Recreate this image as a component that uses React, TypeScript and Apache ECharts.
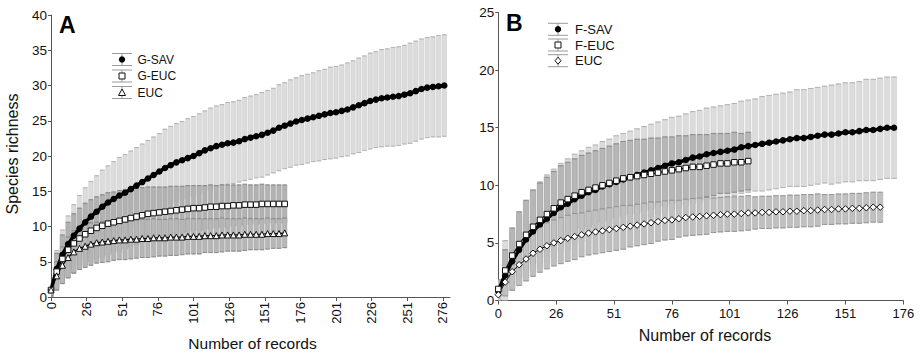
import React, { useEffect, useRef } from "react";
import * as echarts from "echarts";

// ---------- Panel A (records sampled every A_STEP, x = record index from 0) ----------
const A_STEP = 4;
const gSavMean = [1.0, 4.0, 6.0, 7.5, 8.7, 9.7, 10.6, 11.4, 12.1, 12.8, 13.4, 13.9, 14.4, 14.8, 15.3, 15.8, 16.3, 16.8, 17.3, 17.8, 18.3, 18.7, 19.1, 19.4, 19.7, 20.0, 20.4, 20.8, 21.1, 21.4, 21.6, 21.8, 21.9, 22.1, 22.4, 22.6, 22.8, 23.0, 23.3, 23.6, 24.0, 24.3, 24.6, 24.9, 25.1, 25.3, 25.5, 25.7, 25.9, 26.1, 26.2, 26.4, 26.6, 26.9, 27.2, 27.5, 27.8, 28.0, 28.2, 28.3, 28.4, 28.5, 28.7, 28.9, 29.2, 29.5, 29.7, 29.8, 29.9, 30.0];
const gSavSd = [0.8, 2.6, 3.5, 4.0, 4.4, 4.7, 4.9, 5.0, 5.1, 5.2, 5.2, 5.3, 5.4, 5.4, 5.4, 5.4, 5.4, 5.4, 5.4, 5.4, 5.5, 5.5, 5.5, 5.5, 5.6, 5.6, 5.6, 5.6, 5.7, 5.7, 5.7, 5.8, 5.8, 5.8, 5.9, 5.9, 5.9, 6.0, 6.0, 6.0, 6.1, 6.1, 6.2, 6.2, 6.3, 6.3, 6.3, 6.4, 6.4, 6.5, 6.5, 6.5, 6.6, 6.6, 6.7, 6.7, 6.8, 6.8, 6.9, 6.9, 7.0, 7.0, 7.0, 7.1, 7.1, 7.1, 7.1, 7.1, 7.2, 7.2];
const gEucMean = [1.0, 3.6, 5.4, 6.7, 7.6, 8.3, 8.9, 9.4, 9.8, 10.1, 10.4, 10.6, 10.8, 11.0, 11.2, 11.4, 11.6, 11.8, 11.9, 12.0, 12.1, 12.2, 12.3, 12.4, 12.5, 12.6, 12.6, 12.7, 12.8, 12.8, 12.9, 12.9, 13.0, 13.0, 13.1, 13.1, 13.1, 13.2, 13.2, 13.2, 13.2, 13.2];
const gEucSd = [1.0, 2.6, 3.4, 3.9, 4.2, 4.3, 4.4, 4.4, 4.4, 4.4, 4.4, 4.3, 4.3, 4.2, 4.1, 4.0, 3.9, 3.8, 3.7, 3.6, 3.5, 3.5, 3.4, 3.3, 3.3, 3.2, 3.2, 3.1, 3.1, 3.0, 3.0, 3.0, 2.9, 2.9, 2.9, 2.8, 2.8, 2.8, 2.7, 2.7, 2.7, 2.7];
const aEucMean = [1.0, 3.0, 4.5, 5.6, 6.4, 6.9, 7.2, 7.5, 7.7, 7.8, 7.9, 8.0, 8.1, 8.1, 8.2, 8.2, 8.3, 8.3, 8.4, 8.4, 8.4, 8.5, 8.5, 8.5, 8.6, 8.6, 8.6, 8.7, 8.7, 8.7, 8.8, 8.8, 8.8, 8.8, 8.9, 8.9, 8.9, 8.9, 9.0, 9.0, 9.0, 9.1];
const aEucSd = [0.8, 2.0, 2.6, 2.9, 3.0, 3.0, 3.0, 3.0, 2.9, 2.9, 2.9, 2.8, 2.8, 2.8, 2.8, 2.7, 2.7, 2.7, 2.7, 2.6, 2.6, 2.6, 2.6, 2.5, 2.5, 2.5, 2.5, 2.4, 2.4, 2.4, 2.4, 2.3, 2.3, 2.3, 2.3, 2.2, 2.2, 2.2, 2.2, 2.1, 2.1, 2.1];

// ---------- Panel B (records sampled every B_STEP) ----------
const B_STEP = 3;
const fSavMean = [0.8, 2.2, 3.4, 4.4, 5.3, 6.0, 6.6, 7.1, 7.6, 8.1, 8.4, 8.8, 9.1, 9.4, 9.6, 9.9, 10.1, 10.3, 10.5, 10.7, 10.9, 11.1, 11.3, 11.5, 11.7, 11.9, 12.0, 12.2, 12.4, 12.5, 12.7, 12.8, 12.9, 13.0, 13.1, 13.3, 13.4, 13.5, 13.6, 13.7, 13.8, 13.9, 14.0, 14.1, 14.1, 14.2, 14.3, 14.4, 14.4, 14.5, 14.6, 14.6, 14.7, 14.8, 14.8, 14.9, 15.0, 15.0];
const fSavSd = [0.8, 3.0, 2.5, 3.0, 3.3, 3.5, 3.7, 3.8, 3.8, 3.8, 3.9, 3.9, 3.9, 3.9, 3.9, 3.9, 3.9, 4.0, 4.0, 4.0, 4.0, 4.0, 4.0, 4.0, 4.0, 4.0, 4.0, 4.0, 4.0, 4.0, 4.0, 4.0, 4.0, 4.0, 4.0, 4.0, 4.0, 4.0, 4.1, 4.1, 4.1, 4.1, 4.1, 4.2, 4.2, 4.2, 4.2, 4.2, 4.3, 4.3, 4.3, 4.3, 4.3, 4.4, 4.4, 4.4, 4.4, 4.4];
const fEucMean = [1.0, 2.6, 3.9, 4.9, 5.7, 6.4, 7.0, 7.5, 8.0, 8.5, 8.8, 9.1, 9.4, 9.6, 9.8, 10.0, 10.2, 10.4, 10.6, 10.7, 10.8, 10.9, 11.0, 11.1, 11.2, 11.3, 11.4, 11.5, 11.6, 11.6, 11.7, 11.8, 11.9, 11.9, 12.0, 12.0, 12.1];
const fEucSd = [0.8, 1.8, 2.4, 2.8, 3.0, 3.2, 3.2, 3.2, 3.2, 3.2, 3.2, 3.2, 3.2, 3.2, 3.2, 3.2, 3.2, 3.2, 3.2, 3.2, 3.2, 3.1, 3.1, 3.0, 3.0, 2.9, 2.9, 2.8, 2.8, 2.8, 2.7, 2.7, 2.6, 2.6, 2.6, 2.5, 2.5];
const bEucMean = [0.5, 1.6, 2.5, 3.1, 3.6, 4.1, 4.45, 4.75, 5.0, 5.2, 5.4, 5.55, 5.7, 5.85, 5.95, 6.05, 6.15, 6.25, 6.35, 6.45, 6.55, 6.65, 6.75, 6.85, 6.95, 7.0, 7.1, 7.2, 7.25, 7.3, 7.35, 7.4, 7.45, 7.5, 7.5, 7.55, 7.6, 7.6, 7.65, 7.65, 7.7, 7.7, 7.75, 7.75, 7.8, 7.8, 7.85, 7.9, 7.9, 7.95, 7.95, 8.0, 8.0, 8.05, 8.1, 8.1];
const bEucSd = [0.5, 1.2, 1.6, 1.8, 1.9, 2.0, 2.0, 2.0, 2.0, 2.0, 2.0, 2.0, 1.9, 1.9, 1.9, 1.9, 1.9, 1.9, 1.9, 1.8, 1.8, 1.8, 1.8, 1.7, 1.7, 1.7, 1.6, 1.6, 1.6, 1.6, 1.6, 1.5, 1.5, 1.5, 1.5, 1.5, 1.5, 1.4, 1.4, 1.4, 1.4, 1.4, 1.4, 1.4, 1.4, 1.4, 1.4, 1.3, 1.3, 1.3, 1.3, 1.3, 1.3, 1.3, 1.3, 1.3];

const A_TICKS = [0, 25, 50, 75, 100, 125, 150, 175, 200, 225, 250, 275];
const B_TICKS = [0, 25, 50, 75, 100, 125, 150, 175];
const legendA = ["G-SAV", "G-EUC", "EUC"];
const legendB = ["F-SAV", "F-EUC", "EUC"];

const FONT = "'Liberation Sans', Arial, sans-serif";

const tickLabel = (v: number) => (v === 0 ? "0" : String(v + 1));

const pts = (mean: number[], step: number) => mean.map((m, i) => [i * step, m]);
const bars = (mean: number[], sd: number[], step: number) =>
  mean.map((m, i) => [i * step, m, sd[i]]);

function errSeries(grid: number, data: number[][], w: number, fill: string, stroke: string, cap: string) {
  return {
    type: "custom",
    xAxisIndex: grid,
    yAxisIndex: grid,
    silent: true,
    clip: true,
    encode: { x: 0, y: 1 },
    data,
    renderItem: (_p: any, api: any) => {
      const x = api.value(0);
      const m = api.value(1);
      const s = api.value(2);
      const top = api.coord([x, m + s]);
      const bot = api.coord([x, Math.max(m - s, 0)]);
      return {
        type: "group",
        children: [
          {
            type: "rect",
            shape: { x: top[0] - w / 2, y: top[1], width: w, height: bot[1] - top[1] },
            style: { fill, stroke, lineWidth: 0.5 },
          },
          {
            type: "line",
            shape: { x1: top[0] - w / 2, y1: top[1], x2: top[0] + w / 2, y2: top[1] },
            style: { stroke: cap, lineWidth: 0.8 },
          },
          {
            type: "line",
            shape: { x1: top[0] - w / 2, y1: bot[1], x2: top[0] + w / 2, y2: bot[1] },
            style: { stroke: cap, lineWidth: 0.8 },
          },
        ],
      };
    },
  };
}

function markSeries(grid: number, data: number[][], symbol: string, size: number, filled: boolean, lw: number) {
  return {
    type: "line",
    xAxisIndex: grid,
    yAxisIndex: grid,
    silent: true,
    data,
    symbol,
    symbolSize: size,
    showSymbol: true,
    lineStyle: { color: "#000", width: lw },
    itemStyle: filled
      ? { color: "#000", borderColor: "#000", borderWidth: 0 }
      : { color: "#fff", borderColor: "#111", borderWidth: 1 },
  };
}

function axisX(grid: number, max: number, ticks: number[], rotate: number, margin: number) {
  return {
    type: "value",
    gridIndex: grid,
    min: 0,
    max,
    interval: 25,
    axisLine: { show: true, lineStyle: { color: "#555", width: 1 } },
    axisTick: { show: true, length: 4, customValues: ticks, lineStyle: { color: "#555" } },
    axisLabel: {
      customValues: ticks,
      formatter: tickLabel,
      rotate,
      margin,
      fontSize: 13,
      color: "#111",
      fontFamily: FONT,
    },
    splitLine: { show: false },
  };
}

function axisY(grid: number, max: number) {
  return {
    type: "value",
    gridIndex: grid,
    min: 0,
    max,
    interval: 5,
    axisLine: { show: true, lineStyle: { color: "#555", width: 1 } },
    axisTick: { show: true, length: 3, lineStyle: { color: "#555" } },
    axisLabel: { margin: 4, fontSize: 13.5, color: "#111", fontFamily: FONT },
    splitLine: { show: false },
  };
}

function legendGraphics(names: string[], sx: number, ys: number[], textX: number, fs: number, kinds: string[]) {
  const out: any[] = [];
  names.forEach((n, i) => {
    const y = ys[i];
    out.push({ type: "line", shape: { x1: sx - 10, y1: y - 6, x2: sx + 10, y2: y - 6 }, style: { stroke: "#9a9a9a", lineWidth: 1 } });
    out.push({ type: "line", shape: { x1: sx - 10, y1: y + 6, x2: sx + 10, y2: y + 6 }, style: { stroke: "#9a9a9a", lineWidth: 1 } });
    out.push({ type: "line", shape: { x1: sx, y1: y - 6, x2: sx, y2: y + 6 }, style: { stroke: "#9a9a9a", lineWidth: 1 } });
    const k = kinds[i];
    if (k === "circle") out.push({ type: "circle", shape: { cx: sx, cy: y, r: 3.2 }, style: { fill: "#000" } });
    if (k === "rect") out.push({ type: "rect", shape: { x: sx - 3, y: y - 3, width: 6, height: 6 }, style: { fill: "#fff", stroke: "#111", lineWidth: 1 } });
    if (k === "triangle") out.push({ type: "polygon", shape: { points: [[sx, y - 3.5], [sx + 3.5, y + 3], [sx - 3.5, y + 3]] }, style: { fill: "#fff", stroke: "#111", lineWidth: 1 } });
    if (k === "diamond") out.push({ type: "polygon", shape: { points: [[sx, y - 3.5], [sx + 3, y], [sx, y + 3.5], [sx - 3, y]] }, style: { fill: "#fff", stroke: "#111", lineWidth: 1 } });
    out.push({ type: "text", x: textX, y, style: { text: n, fontSize: fs, fontFamily: FONT, fill: "#111", textVerticalAlign: "middle" } });
  });
  return out;
}

export default function App() {
  const ref = useRef<HTMLDivElement>(null);
  useEffect(() => {
    if (!ref.current) return;
    const chart = echarts.init(ref.current, undefined, { renderer: "svg" });
    const option: any = {
      animation: false,
      backgroundColor: "#fff",
      grid: [
        { left: 51, top: 15, width: 399, height: 282 },
        { left: 498.3, top: 12.5, width: 405, height: 288 },
      ],
      xAxis: [axisX(0, 280, A_TICKS, 90, 5), axisX(1, 175, B_TICKS, 0, 6)],
      yAxis: [axisY(0, 40), axisY(1, 25)],
      series: [
        errSeries(0, bars(gSavMean, gSavSd, A_STEP), 4.4, "#dcdcdc", "#c8c8c8", "#a8a8a8"),
        errSeries(0, bars(gEucMean, gEucSd, A_STEP), 4.4, "#b2b2b2", "#9a9a9a", "#7c7c7c"),
        errSeries(0, bars(aEucMean, aEucSd, A_STEP), 4.4, "#b6b6b6", "#9c9c9c", "#808080"),
        markSeries(0, pts(gSavMean, A_STEP), "circle", 6.5, true, 3.5),
        markSeries(0, pts(gEucMean, A_STEP), "rect", 5.5, false, 1.2),
        markSeries(0, pts(aEucMean, A_STEP), "triangle", 6, false, 1.2),
        errSeries(1, bars(fSavMean, fSavSd, B_STEP), 5.3, "#dcdcdc", "#c8c8c8", "#a8a8a8"),
        errSeries(1, bars(fEucMean, fEucSd, B_STEP), 5.3, "#b6b6b6", "#9c9c9c", "#808080"),
        errSeries(1, bars(bEucMean, bEucSd, B_STEP), 5.3, "#c0c0c0", "#a4a4a4", "#8c8c8c"),
        markSeries(1, pts(fSavMean, B_STEP), "circle", 6.5, true, 3.5),
        markSeries(1, pts(fEucMean, B_STEP), "rect", 5.5, false, 1.2),
        markSeries(1, pts(bEucMean, B_STEP), "diamond", 6.5, false, 1),
      ],
      graphic: [
        { type: "text", x: 59, y: 24.5, style: { text: "A", fontSize: 23, fontWeight: "bold", fontFamily: FONT, fill: "#000", textVerticalAlign: "middle" } },
        { type: "text", x: 506, y: 22.5, style: { text: "B", fontSize: 23, fontWeight: "bold", fontFamily: FONT, fill: "#000", textVerticalAlign: "middle" } },
        { type: "text", x: 12.5, y: 154, rotation: Math.PI / 2, style: { text: "Species richness", fontSize: 16, fontFamily: FONT, fill: "#111", textAlign: "center", textVerticalAlign: "middle" } },
        { type: "text", x: 252.5, y: 343, style: { text: "Number of records", fontSize: 15.5, fontFamily: FONT, fill: "#111", textAlign: "center", textVerticalAlign: "middle" } },
        { type: "text", x: 705, y: 335, style: { text: "Number of records", fontSize: 16, fontFamily: FONT, fill: "#111", textAlign: "center", textVerticalAlign: "middle" } },
        ...legendGraphics(legendA, 122, [59.5, 76, 92.5], 137.5, 12, ["circle", "rect", "triangle"]),
        ...legendGraphics(legendB, 558, [29.3, 45, 60.7], 575, 13, ["circle", "rect", "diamond"]),
      ],
    };
    chart.setOption(option);
    return () => chart.dispose();
  }, []);
  return <div ref={ref} style={{ position: "fixed", left: 0, top: 0, width: 921, height: 354 }} />;
}
